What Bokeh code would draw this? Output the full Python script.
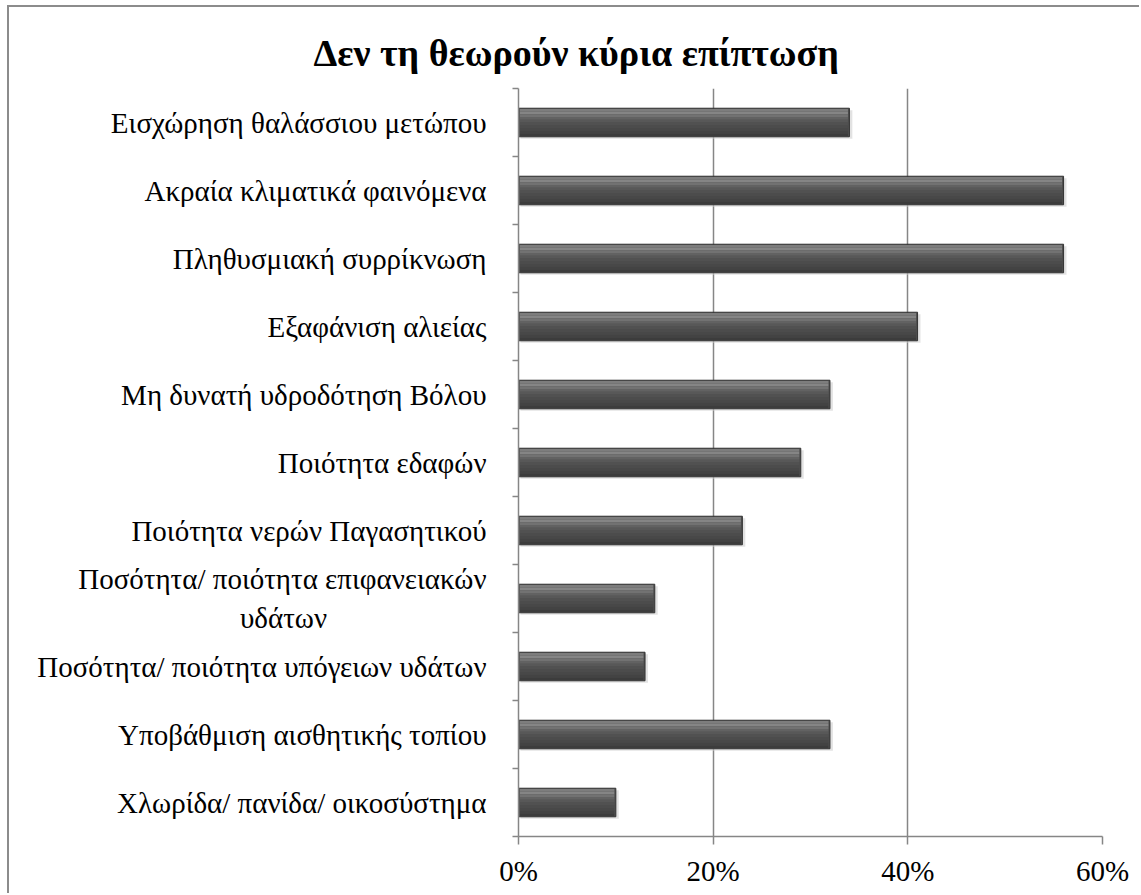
from bokeh.plotting import figure
from bokeh.models import FixedTicker, NumeralTickFormatter, Range1d, Title
from bokeh.embed import file_html
from bokeh.resources import INLINE

categories = [
    "Εισχώρηση θαλάσσιου μετώπου",
    "Ακραία κλιματικά φαινόμενα",
    "Πληθυσμιακή συρρίκνωση",
    "Εξαφάνιση αλιείας",
    "Μη δυνατή υδροδότηση Βόλου",
    "Ποιότητα εδαφών",
    "Ποιότητα νερών Παγασητικού",
    "Ποσότητα/ ποιότητα επιφανειακών\nυδάτων" + "\u00a0" * 22,
    "Ποσότητα/ ποιότητα υπόγειων υδάτων",
    "Υποβάθμιση αισθητικής τοπίου",
    "Χλωρίδα/ πανίδα/ οικοσύστημα",
]
values = [0.34, 0.56, 0.56, 0.41, 0.32, 0.29, 0.23, 0.14, 0.13, 0.32, 0.10]
x_ticks = [0, 0.2, 0.4, 0.6]

n = len(categories)
ypos = [n - i for i in range(n)]
FONT = "'Liberation Serif', 'Times New Roman', serif"
GRAY = "#868686"

p = figure(width=1132, height=888, output_backend="svg", toolbar_location=None,
           x_range=Range1d(0, 0.6), y_range=Range1d(0.5, n + 0.5),
           min_border_left=509, min_border_right=39, min_border_top=81, min_border_bottom=59)
p.outline_line_color = None
p.background_fill_color = "white"
p.border_fill_color = "white"
p.styles = {"margin-left": "7px", "margin-top": "5px",
            "border-left": "2px solid #8c8c8c", "border-top": "2px solid #8c8c8c"}

t = Title(text="Δεν τη θεωρούν κύρια επίπτωση", align="left", offset=-205, standoff=30,
          text_font=FONT, text_font_size="38px", text_font_style="bold", text_color="black")
p.add_layout(t, "above")

# bars: soft shadow, then stacked shading bands from top to bottom
h = 0.42
p.hbar(y=[y - 0.03 for y in ypos], left=0.002, right=[v + 0.003 for v in values], height=h,
       fill_color="#cfcfcf", fill_alpha=0.6, line_color=None)
p.hbar(y=ypos, left=0, right=values, height=h, fill_color="#4e4e4e", line_color="#333333", line_width=1)
bands = ["#7d7d7d", "#858585", "#727272", "#626262", "#585858", "#515151", "#4c4c4c", "#484848", "#434343", "#3c3c3c"]
bh = (h - 0.02) / len(bands)
for k, col in enumerate(bands):
    off = h / 2 - 0.01 - bh * (k + 0.5)
    p.hbar(y=[y + off for y in ypos], left=0.0015, right=[v - 0.0015 for v in values], height=bh,
           fill_color=col, line_color=None)

# x axis
p.xaxis.ticker = FixedTicker(ticks=x_ticks)
p.xaxis.formatter = NumeralTickFormatter(format="0%")
p.xaxis.axis_line_color = GRAY
p.xaxis.axis_line_width = 1.5
p.xaxis.major_tick_line_color = GRAY
p.xaxis.major_tick_line_width = 1.5
p.xaxis.major_tick_out = 8
p.xaxis.major_tick_in = 0
p.xaxis.minor_tick_line_color = None
p.xaxis.major_label_text_font = FONT
p.xaxis.major_label_text_font_size = "29px"
p.xaxis.major_label_text_color = "black"
p.xaxis.major_label_standoff = 10

# y axis: labels at centers, ticks at boundaries
p.yaxis.ticker = FixedTicker(ticks=ypos, minor_ticks=[k + 0.5 for k in range(n + 1)])
p.yaxis.major_label_overrides = {y: c for y, c in zip(ypos, categories)}
p.yaxis.axis_line_color = GRAY
p.yaxis.axis_line_width = 1.5
p.yaxis.major_tick_line_color = None
p.yaxis.minor_tick_line_color = GRAY
p.yaxis.minor_tick_line_width = 1.5
p.yaxis.minor_tick_out = 6
p.yaxis.minor_tick_in = 0
p.yaxis.major_label_text_font = FONT
p.yaxis.major_label_text_font_size = "29px"
p.yaxis.major_label_text_color = "black"
p.yaxis.major_label_standoff = 26

# grid
p.xgrid.ticker = FixedTicker(ticks=[0.2, 0.4, 0.6])
p.xgrid.grid_line_color = GRAY
p.xgrid.grid_line_width = 1.5
p.ygrid.grid_line_color = None

open("out.html", "w").write(file_html(p, INLINE))
